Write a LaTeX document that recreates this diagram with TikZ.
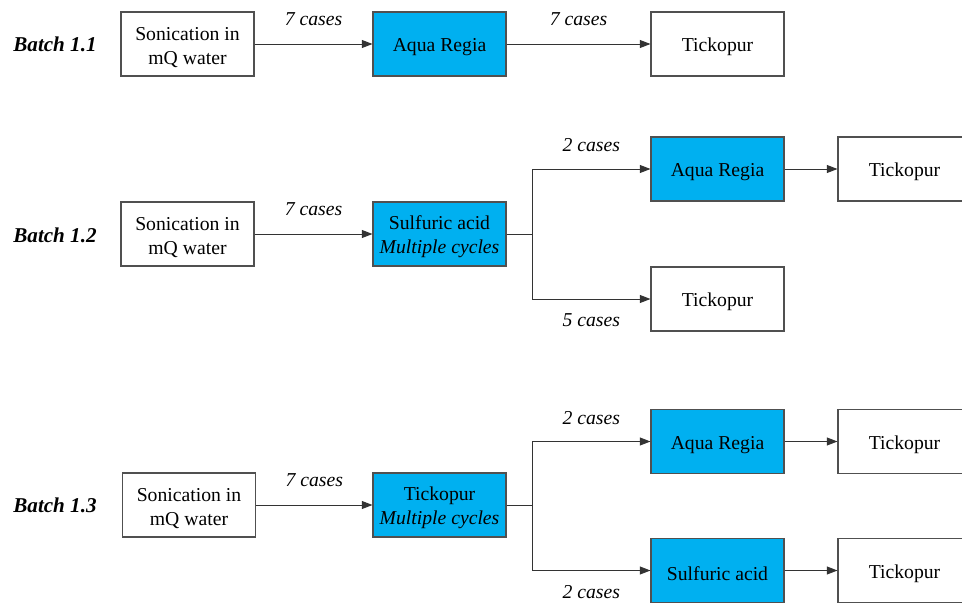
\documentclass[tikz,border=0pt]{standalone}
\usepackage{fontspec}
\setmainfont{Liberation Serif}
\usetikzlibrary{arrows.meta}

\definecolor{stepblue}{HTML}{00B0F0}
\definecolor{framegray}{HTML}{505050}
\newcommand{\boxstrut}{\rule{0pt}{11pt}}

\tikzset{
    stepbox/.style={draw=framegray, line width=0.6pt, minimum width=2.66cm, minimum height=1.28cm,
        align=center, inner sep=2pt, font=\fontsize{11.2}{13.6}\selectfont,
        execute at begin node={\boxstrut}},
    acidbox/.style={stepbox, fill=stepblue},
    flow/.style={draw=black!80, line width=0.55pt, -{Triangle[length=6pt,width=4.5pt]}},
    caselabel/.style={font=\fontsize{11.2}{13.6}\selectfont\itshape, inner sep=0pt},
    batchlabel/.style={font=\fontsize{12}{14}\selectfont\bfseries\itshape}
}

\begin{document}
\begin{tikzpicture}[x=0.2mm,y=-0.2mm]
            \useasboundingbox (0,0) rectangle (962,604);

            % Batch 1.1
            \node[batchlabel] (b1) at (55,44) {Batch 1.1};
            \node[stepbox] (son1) at (187.5,44) {\boxstrut Sonication in\\mQ water};
            \node[acidbox] (ar1) at (439.5,44) {Aqua Regia};
            \node[stepbox] (tp1) at (717.5,44) {Tickopur};
            \draw[flow] (son1) -- node[caselabel, above=10pt] {7 cases} (ar1);
            \draw[flow] (ar1) -- node[caselabel, above=10pt] {7 cases} (tp1);

            % Batch 1.2
            \node[batchlabel] (b2) at (55,235) {Batch 1.2};
            \node[stepbox] (son2) at (187.5,234) {\boxstrut Sonication in\\mQ water};
            \node[acidbox] (sa2) at (439.5,234) {\boxstrut Sulfuric acid\\\textit{Multiple cycles}};
            \node[acidbox] (ar2) at (717.5,169) {Aqua Regia};
            \node[stepbox] (tp2a) at (904.5,169) {Tickopur};
            \node[stepbox] (tp2b) at (717.5,299) {Tickopur};
            \coordinate (br2) at (532,234);
            \draw[flow] (son2) -- node[caselabel, above=10pt] {7 cases} (sa2);
            \draw[draw=black!80, line width=0.55pt] (sa2.east) -- (br2);
            \draw[flow] (br2) |- node[caselabel, pos=0.75, above=9.5pt] {2 cases} (ar2);
            \draw[flow] (br2) |- node[caselabel, pos=0.75, below=8pt] {5 cases} (tp2b);
            \draw[flow] (ar2) -- (tp2a);

            % Batch 1.3
            \node[batchlabel] (b3) at (55,505) {Batch 1.3};
            \node[stepbox] (son3) at (189,505) {\boxstrut Sonication in\\mQ water};
            \node[acidbox] (tk3) at (439.5,505) {\boxstrut Tickopur\\\textit{Multiple cycles}};
            \node[acidbox] (ar3) at (717.5,441.5) {Aqua Regia};
            \node[stepbox] (tp3a) at (904.5,441.5) {Tickopur};
            \node[acidbox] (sa3) at (717.5,570.5) {Sulfuric acid};
            \node[stepbox] (tp3b) at (904.5,570.5) {Tickopur};
            \coordinate (br3) at (532,505);
            \draw[flow] (son3) -- node[caselabel, above=10pt] {7 cases} (tk3);
            \draw[draw=black!80, line width=0.55pt] (tk3.east) -- (br3);
            \draw[flow] (br3) |- node[caselabel, pos=0.75, above=9.5pt] {2 cases} (ar3);
            \draw[flow] (br3) |- node[caselabel, pos=0.75, below=8pt] {2 cases} (sa3);
            \draw[flow] (ar3) -- (tp3a);
            \draw[flow] (sa3) -- (tp3b);

\end{tikzpicture}
\end{document}
